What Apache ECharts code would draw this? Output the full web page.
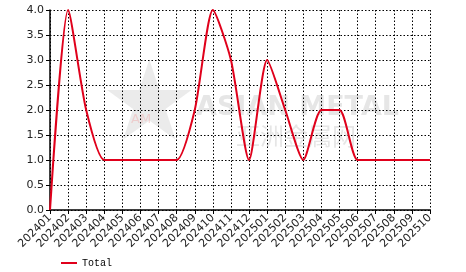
<!DOCTYPE html>
<html><head><meta charset="utf-8">
<script src="https://cdn.jsdelivr.net/npm/echarts@6/dist/echarts.min.js"></script>
<style>html,body{margin:0;padding:0;background:#fff}#c{width:466px;height:272px}</style>
</head><body><div id="c"></div>
<script>
const categories = ['202401','202402','202403','202404','202405','202406','202407','202408','202409','202410','202411','202412','202501','202502','202503','202504','202505','202506','202507','202508','202509','202510'];
const totalValues = [0,4,2,1,1,1,1,1,2,4,3,1,3,2,1,2,2,1,1,1,1,1];
const yTicks = ['0.0','0.5','1.0','1.5','2.0','2.5','3.0','3.5','4.0'];

const chart = echarts.init(document.getElementById('c'));
chart.setOption({
  animation: false,
  backgroundColor: '#fff',
  graphic: [
    {type:'text', left: 196, top: 94, style:{text:'ASIAN METAL', fill:'rgba(205,205,205,0.5)', font:'bold 27px "DejaVu Sans"'}, z: 0},
    {type:'text', left: 236, top: 124, style:{text:'亚洲金属网', fill:'rgba(205,205,205,0.5)', font:'24px "Noto Sans CJK SC"'}, z: 0},
    {type:'text', left: 100, top: 55, style:{text:'★', fill:'rgba(205,205,205,0.4)', font:'110px "DejaVu Sans"'}, z: 0},
    {type:'text', left: 131, top: 113, style:{text:'AM', fill:'rgba(240,150,150,0.35)', font:'13px "DejaVu Sans"'}, z: 0}
  ],
  grid: {left: 50, right: 36, top: 10, bottom: 62},
  legend: {
    left: 56, top: 253, itemWidth: 16, itemHeight: 2, icon: 'rect', itemGap: 5,
    textStyle: {fontFamily: '"Liberation Mono"', fontSize: 10, color: '#000'},
    data: ['Total']
  },
  xAxis: {
    type: 'category', data: categories, boundaryGap: false,
    axisLine: {lineStyle: {color: '#000', width: 1.5}},
    axisTick: {show: true, alignWithLabel: true, lineStyle: {color: '#000'}, length: 4},
    axisLabel: {rotate: 45, fontSize: 11, color: '#222', fontFamily: '"DejaVu Sans"', margin: 6, interval: 0},
    splitLine: {show: true, lineStyle: {color: '#000', type: [1.5, 2], width: 1}}
  },
  yAxis: {
    type: 'value', min: 0, max: 4, interval: 0.5,
    axisLine: {show: true, lineStyle: {color: '#000', width: 1.5}},
    axisTick: {show: true, length: 4, lineStyle: {color: '#000'}},
    axisLabel: {fontSize: 11, color: '#222', fontFamily: '"DejaVu Sans"', margin: 6,
      formatter: (v) => yTicks[Math.round(v / 0.5)] ?? v.toFixed(1)},
    splitLine: {show: true, lineStyle: {color: '#000', type: [1.5, 2], width: 1}}
  },
  series: [{
    name: 'Total', type: 'line', data: totalValues, smooth: 0.22,
    symbol: 'none', lineStyle: {color: '#e0001b', width: 2}, itemStyle: {color: '#e0001b'}, z: 3
  }]
});
</script></body></html>
